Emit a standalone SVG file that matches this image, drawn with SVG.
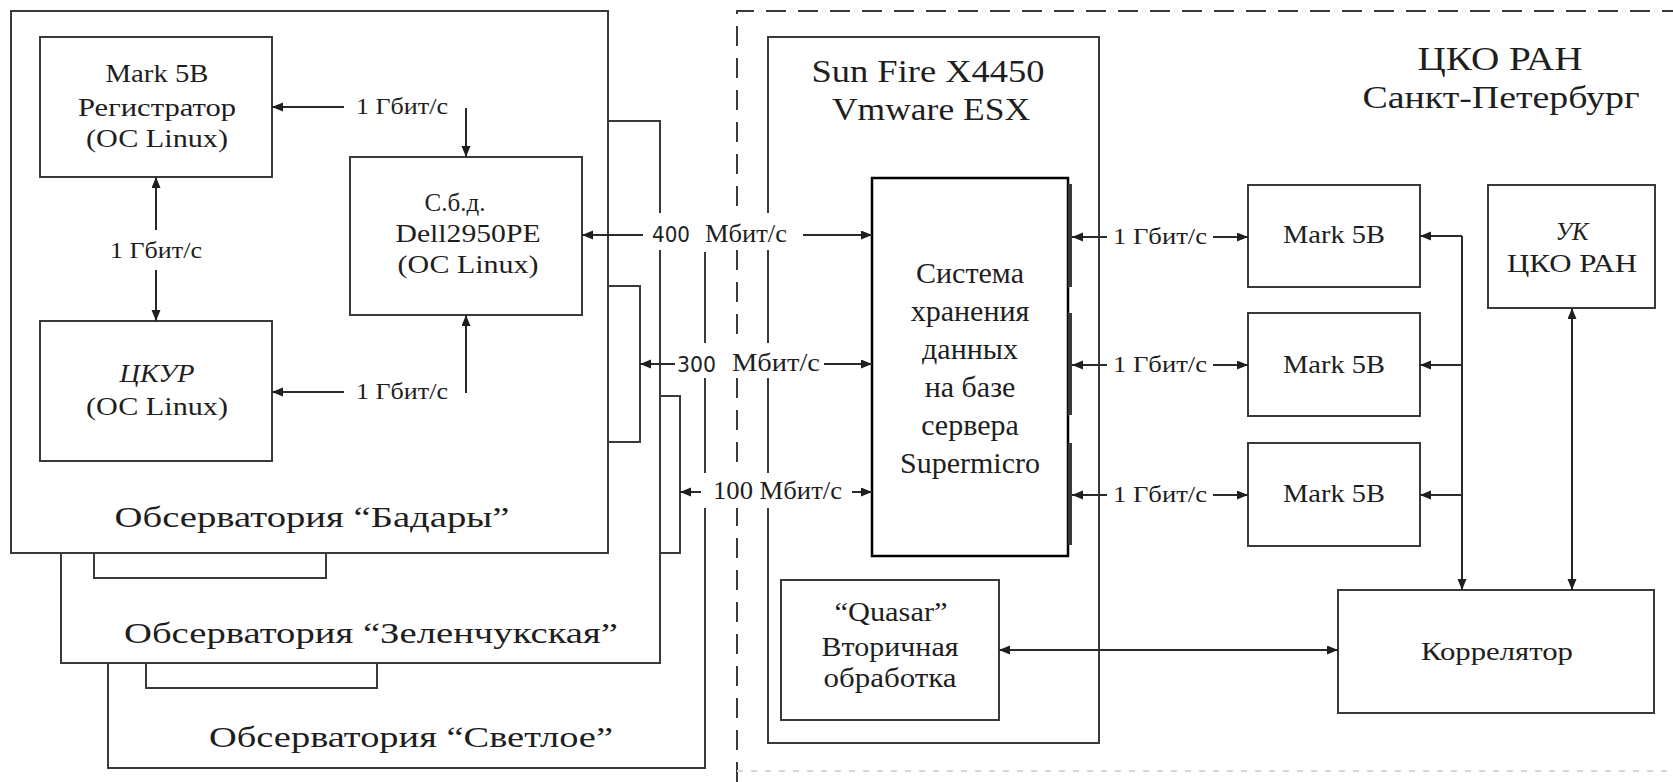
<svg xmlns="http://www.w3.org/2000/svg" width="1673" height="782" viewBox="0 0 1673 782">
<style>
.b{fill:none;stroke:#3a3a3a;stroke-width:2}
.bw{fill:#fff;stroke:#3a3a3a;stroke-width:2}
.c{fill:none;stroke:#2a2a2a;stroke-width:2}
.t{font-family:"Liberation Serif","Times New Roman",serif;fill:#1e1e1e;text-anchor:middle}
.s{font-family:"DejaVu Sans","Liberation Sans",sans-serif;fill:#1e1e1e}
.l{font-family:"Liberation Serif","Times New Roman",serif;fill:#1e1e1e}
.wb{fill:#fff;stroke:none}
</style>
<defs>
<marker id="ah" markerUnits="userSpaceOnUse" markerWidth="12" markerHeight="10" refX="11" refY="4.5" orient="auto-start-reverse">
<path d="M0,0 L11,4.5 L0,9 Z" fill="#1e1e1e"/>
</marker>
</defs>
<rect width="1673" height="782" fill="#fff"/>

<g id="obs-svetloe">
<path class="b" d="M705,252 V768 H108 V663"/>
<path class="b" d="M146,663 V688 H377 V663"/>
<path class="b" d="M660,396 H680 V553 H660"/>
<text class="t" x="411" y="747" font-size="30" textLength="404" lengthAdjust="spacingAndGlyphs">Обсерватория “Светлое”</text>
</g>

<g id="obs-zelenchuk">
<path class="b" d="M608,121 H660 V663 H61 V553"/>
<path class="b" d="M94,553 V578 H326 V553"/>
<path class="b" d="M608,286 H640 V442 H608"/>
<text class="t" x="371" y="643" font-size="30" textLength="494" lengthAdjust="spacingAndGlyphs">Обсерватория “Зеленчукская”</text>
</g>

<g id="obs-badary">
<rect class="bw" x="11" y="11" width="597" height="542"/>
<text class="t" x="312" y="527" font-size="30" textLength="395" lengthAdjust="spacingAndGlyphs">Обсерватория “Бадары”</text>
</g>

<g id="mark5b-reg">
<rect class="bw" x="40" y="37" width="232" height="140"/>
<text class="t" x="157" y="82" font-size="25" textLength="103" lengthAdjust="spacingAndGlyphs">Mark 5B</text>
<text class="t" x="157" y="116" font-size="25" textLength="158" lengthAdjust="spacingAndGlyphs">Регистратор</text>
<text class="t" x="157" y="147" font-size="25" textLength="142" lengthAdjust="spacingAndGlyphs">(ОС Linux)</text>
</g>

<g id="dell">
<rect class="bw" x="350" y="157" width="232" height="158"/>
<text class="t" x="455" y="211" font-size="25">С.б.д.</text>
<text class="t" x="468" y="242" font-size="25" textLength="145" lengthAdjust="spacingAndGlyphs">Dell2950PE</text>
<text class="t" x="468" y="273" font-size="25" textLength="141" lengthAdjust="spacingAndGlyphs">(ОС Linux)</text>
</g>

<g id="ckur">
<rect class="bw" x="40" y="321" width="232" height="140"/>
<text class="t" x="157" y="382" font-size="25" font-style="italic" textLength="75" lengthAdjust="spacingAndGlyphs">ЦКУР</text>
<text class="t" x="157" y="415" font-size="25" textLength="142" lengthAdjust="spacingAndGlyphs">(ОС Linux)</text>
</g>

<g id="boundary">
<path d="M737,782 V11 H1673" fill="none" stroke="#3a3a3a" stroke-width="2" stroke-dasharray="20 12"/>
<path d="M737,771 H1673" fill="none" stroke="#d6d6d6" stroke-width="2" stroke-dasharray="6 8"/>
<text class="t" x="1500" y="70" font-size="34" textLength="165" lengthAdjust="spacingAndGlyphs">ЦКО РАН</text>
<text class="t" x="1501" y="108" font-size="32" textLength="277" lengthAdjust="spacingAndGlyphs">Санкт-Петербург</text>
</g>

<g id="sunfire">
<rect class="bw" x="768" y="37" width="331" height="706"/>
<text class="t" x="928" y="82" font-size="31" textLength="233" lengthAdjust="spacingAndGlyphs">Sun Fire X4450</text>
<text class="t" x="931" y="120" font-size="31" textLength="198" lengthAdjust="spacingAndGlyphs">Vmware ESX</text>
</g>

<g id="storage">
<rect x="872" y="178" width="196" height="378" fill="#fff" stroke="#000" stroke-width="2.5"/>
<rect x="1068" y="184" width="4" height="103" fill="#3a3a3a"/>
<rect x="1068" y="313" width="4" height="102" fill="#3a3a3a"/>
<rect x="1068" y="443" width="4" height="102" fill="#3a3a3a"/>
<text class="t" x="970" y="283" font-size="30" fill="#000">Система</text>
<text class="t" x="970" y="321" font-size="30" fill="#000">хранения</text>
<text class="t" x="970" y="359" font-size="30" fill="#000">данных</text>
<text class="t" x="970" y="397" font-size="30" fill="#000">на базе</text>
<text class="t" x="970" y="435" font-size="30" fill="#000">сервера</text>
<text class="t" x="970" y="473" font-size="30" fill="#000">Supermicro</text>
</g>

<g id="quasar">
<rect class="bw" x="781" y="580" width="218" height="140"/>
<text class="t" x="891" y="621" font-size="27" textLength="113" lengthAdjust="spacingAndGlyphs">“Quasar”</text>
<text class="t" x="890" y="656" font-size="27" textLength="137" lengthAdjust="spacingAndGlyphs">Вторичная</text>
<text class="t" x="890" y="687" font-size="27" textLength="133" lengthAdjust="spacingAndGlyphs">обработка</text>
</g>

<g id="mark5b-1">
<rect class="bw" x="1248" y="185" width="172" height="102"/>
<text class="t" x="1334" y="243" font-size="26" textLength="102" lengthAdjust="spacingAndGlyphs">Mark 5B</text>
</g>
<g id="mark5b-2">
<rect class="bw" x="1248" y="313" width="172" height="103"/>
<text class="t" x="1334" y="373" font-size="26" textLength="102" lengthAdjust="spacingAndGlyphs">Mark 5B</text>
</g>
<g id="mark5b-3">
<rect class="bw" x="1248" y="443" width="172" height="103"/>
<text class="t" x="1334" y="502" font-size="26" textLength="102" lengthAdjust="spacingAndGlyphs">Mark 5B</text>
</g>

<g id="uk">
<rect class="bw" x="1488" y="185" width="167" height="123"/>
<text class="t" x="1572" y="240" font-size="26" font-style="italic" textLength="33" lengthAdjust="spacingAndGlyphs">УК</text>
<text class="t" x="1572" y="272" font-size="26" textLength="130" lengthAdjust="spacingAndGlyphs">ЦКО РАН</text>
</g>

<g id="correlator">
<rect class="bw" x="1338" y="590" width="316" height="123"/>
<text class="t" x="1497" y="660" font-size="26" textLength="152" lengthAdjust="spacingAndGlyphs">Коррелятор</text>
</g>

<g id="connectors">
<rect class="wb" x="646" y="213" width="144" height="37"/>
<rect class="wb" x="674" y="343" width="149" height="35"/>
<rect class="wb" x="702" y="473" width="143" height="35"/>

<path class="c" d="M156,230 V177" marker-end="url(#ah)"/>
<path class="c" d="M156,270 V321" marker-end="url(#ah)"/>
<text class="t" x="156" y="258" font-size="24" textLength="92" lengthAdjust="spacingAndGlyphs">1 Гбит/с</text>

<path class="c" d="M344,107 H272" marker-end="url(#ah)"/>
<text class="l" x="356" y="114" font-size="24" textLength="92" lengthAdjust="spacingAndGlyphs">1 Гбит/с</text>
<path class="c" d="M466,108 V157" marker-end="url(#ah)"/>

<path class="c" d="M344,392 H272" marker-end="url(#ah)"/>
<text class="l" x="356" y="399" font-size="24" textLength="92" lengthAdjust="spacingAndGlyphs">1 Гбит/с</text>
<path class="c" d="M466,393 V315" marker-end="url(#ah)"/>

<path class="c" d="M643,235 H582" marker-end="url(#ah)"/>
<text class="s" x="652" y="242" font-size="21" textLength="38" lengthAdjust="spacingAndGlyphs">400</text>
<text class="l" x="705" y="242" font-size="25" textLength="82" lengthAdjust="spacingAndGlyphs">Мбит/с</text>
<path class="c" d="M803,235 H872" marker-end="url(#ah)"/>

<path class="c" d="M675,364 H640" marker-end="url(#ah)"/>
<text class="s" x="677" y="372" font-size="21" textLength="39" lengthAdjust="spacingAndGlyphs">300</text>
<text class="l" x="732" y="371" font-size="25" textLength="88" lengthAdjust="spacingAndGlyphs">Мбит/с</text>
<path class="c" d="M824,364 H872" marker-end="url(#ah)"/>

<path class="c" d="M701,492 H680" marker-end="url(#ah)"/>
<text class="l" x="713" y="499" font-size="25" textLength="129" lengthAdjust="spacingAndGlyphs">100 Мбит/с</text>
<path class="c" d="M852,492 H872" marker-end="url(#ah)"/>

<path class="c" d="M1107,237 H1072" marker-end="url(#ah)"/>
<text class="l" x="1113" y="244" font-size="24" textLength="94" lengthAdjust="spacingAndGlyphs">1 Гбит/с</text>
<path class="c" d="M1213,237 H1248" marker-end="url(#ah)"/>

<path class="c" d="M1107,365 H1072" marker-end="url(#ah)"/>
<text class="l" x="1113" y="372" font-size="24" textLength="94" lengthAdjust="spacingAndGlyphs">1 Гбит/с</text>
<path class="c" d="M1213,365 H1248" marker-end="url(#ah)"/>

<path class="c" d="M1107,495 H1072" marker-end="url(#ah)"/>
<text class="l" x="1113" y="502" font-size="24" textLength="94" lengthAdjust="spacingAndGlyphs">1 Гбит/с</text>
<path class="c" d="M1213,495 H1248" marker-end="url(#ah)"/>

<path class="c" d="M1462,236 V590" marker-end="url(#ah)"/>
<path class="c" d="M1462,236 H1420" marker-end="url(#ah)"/>
<path class="c" d="M1462,365 H1420" marker-end="url(#ah)"/>
<path class="c" d="M1462,495 H1420" marker-end="url(#ah)"/>

<path class="c" d="M1572,308 V590" marker-start="url(#ah)" marker-end="url(#ah)"/>

<path class="c" d="M999,650 H1338" marker-start="url(#ah)" marker-end="url(#ah)"/>
</g>
</svg>
